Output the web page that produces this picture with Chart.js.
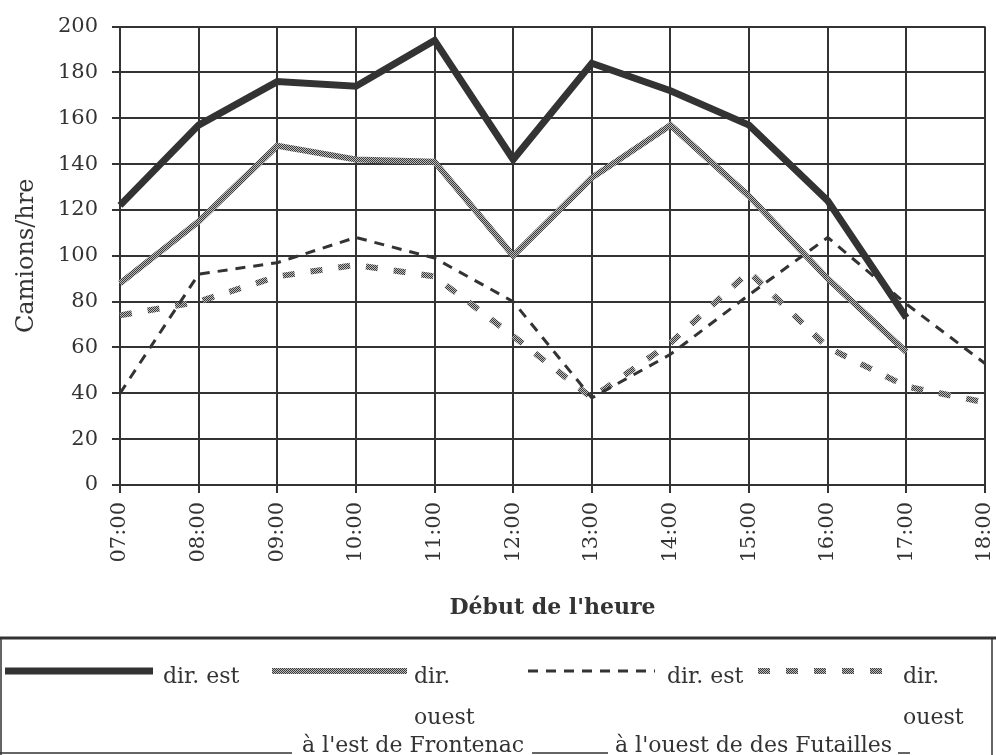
<!DOCTYPE html>
<html>
<head>
<meta charset="utf-8">
<script src="https://cdn.jsdelivr.net/npm/chart.js@4"></script>
<style>
  html, body { margin: 0; padding: 0; background: #fff; }
  #wrap { width: 996px; height: 755px; }
</style>
</head>
<body>
<div id="wrap"><canvas id="myChart" width="996" height="755"></canvas></div>
<script>
// data
const hours = ["07:00", "08:00", "09:00", "10:00", "11:00", "12:00", "13:00", "14:00", "15:00", "16:00", "17:00", "18:00"];
const estFrontenac = [122, 157, 176, 174, 194, 142, 184, 172, 157, 124, 73, null];
const ouestFrontenac = [88, 115, 148, 142, 141, 100, 134, 157, 126, 90, 58, null];
const estFutailles = [40, 92, 97, 108, 99, 80, 38, 57, 83, 108, 79, 53];
const ouestFutailles = [74, 80, 91, 96, 91, 65, 38, 62, 93, 60, 43, 36];
const seriesNames = ["dir. est", "dir. ouest", "dir. est", "dir. ouest"];
const groupNames = ["à l'est de Frontenac", "à l'ouest de des Futailles"];

const ink = "#333";
const font = "'DejaVu Serif', serif";

// speckled grey used by the "ouest" lines
function speckle() {
  const c = document.createElement("canvas");
  c.width = 2;
  c.height = 2;
  const g = c.getContext("2d");
  g.fillStyle = "#3a3a3a";
  g.fillRect(0, 0, 2, 2);
  g.fillStyle = "#bbb";
  g.fillRect(1, 0, 1, 1);
  g.fillRect(0, 1, 1, 1);
  return g.createPattern(c, "repeat");
}
const grey = speckle();

// legend box drawn under the axis title
const legendBox = {
  id: "legendBox",
  afterDraw(chart) {
    const ctx = chart.ctx;
    const ds = chart.data.datasets;
    ctx.save();
    ctx.strokeStyle = ink;
    ctx.lineWidth = 3;
    ctx.beginPath();
    ctx.moveTo(0, 638);
    ctx.lineTo(996, 638);
    ctx.stroke();
    ctx.lineWidth = 1.5;
    ctx.beginPath();
    ctx.moveTo(1, 638);
    ctx.lineTo(1, 755);
    ctx.moveTo(992, 638);
    ctx.lineTo(992, 755);
    ctx.stroke();

    // [line start, line end, text x]
    const samples = [[5, 153, 163], [272, 407, 414], [528, 655, 667], [758, 886, 903]];
    ctx.font = "22px " + font;
    ctx.fillStyle = ink;
    ctx.textBaseline = "alphabetic";
    samples.forEach((s, i) => {
      ctx.strokeStyle = ds[i].borderColor;
      ctx.lineWidth = ds[i].borderWidth;
      ctx.setLineDash(ds[i].borderDash || []);
      ctx.beginPath();
      ctx.moveTo(s[0], 671);
      ctx.lineTo(s[1], 671);
      ctx.stroke();
      const words = seriesNames[i].split(" ");
      if (i % 2 === 0) {
        ctx.fillText(seriesNames[i], s[2], 683);
      } else {
        ctx.fillText(words[0], s[2], 683);
        ctx.fillText(words[1], s[2], 724);
      }
    });
    ctx.setLineDash([]);
    ctx.fillText(groupNames[0], 302, 752);
    ctx.fillText(groupNames[1], 615, 752);
    ctx.strokeStyle = ink;
    ctx.lineWidth = 1.5;
    ctx.beginPath();
    [[0, 292], [532, 608], [898, 910]].forEach(u => {
      ctx.moveTo(u[0], 753);
      ctx.lineTo(u[1], 753);
    });
    ctx.stroke();
    ctx.restore();
  }
};

var ctx = document.getElementById("myChart").getContext("2d");
var chart = new Chart(ctx, {
  type: "line",
  data: {
    labels: hours,
    datasets: [
      { label: seriesNames[0], data: estFrontenac, borderColor: ink, borderWidth: 7 },
      { label: seriesNames[1], data: ouestFrontenac, borderColor: grey, borderWidth: 6 },
      { label: seriesNames[2], data: estFutailles, borderColor: ink, borderWidth: 3, borderDash: [10, 8] },
      { label: seriesNames[3], data: ouestFutailles, borderColor: grey, borderWidth: 6, borderDash: [12, 16] }
    ]
  },
  options: {
    responsive: false,
    animation: false,
    devicePixelRatio: 1,
    elements: {
      point: { radius: 0 },
      line: { tension: 0, borderJoinStyle: "miter", borderCapStyle: "butt" }
    },
    layout: { padding: { top: 26, right: 11, bottom: 130, left: 12 } },
    plugins: { legend: { display: false }, tooltip: { enabled: false } },
    scales: {
      x: {
        offset: false,
        grid: { color: ink, lineWidth: 2, tickLength: 8 },
        border: { color: ink, width: 2 },
        ticks: { color: ink, font: { family: font, size: 21 }, minRotation: 90, maxRotation: 90, padding: 9 },
        title: { display: true, text: "Début de l'heure", color: ink, font: { family: font, size: 22, weight: "bold" }, padding: { top: 6 } },
        afterFit(scale) {
          scale.height = 140;
          scale.paddingRight = 0;
        }
      },
      y: {
        min: 0,
        max: 200,
        grid: { color: ink, lineWidth: 2, tickLength: 8 },
        border: { color: ink, width: 2 },
        ticks: { stepSize: 20, color: ink, font: { family: font, size: 21 }, padding: 14 },
        title: { display: true, text: "Camions/hre", color: ink, font: { family: font, size: 24 }, padding: 0 },
        afterFit(scale) { scale.width = 108; }
      }
    }
  },
  plugins: [legendBox]
});
</script>
</body>
</html>
